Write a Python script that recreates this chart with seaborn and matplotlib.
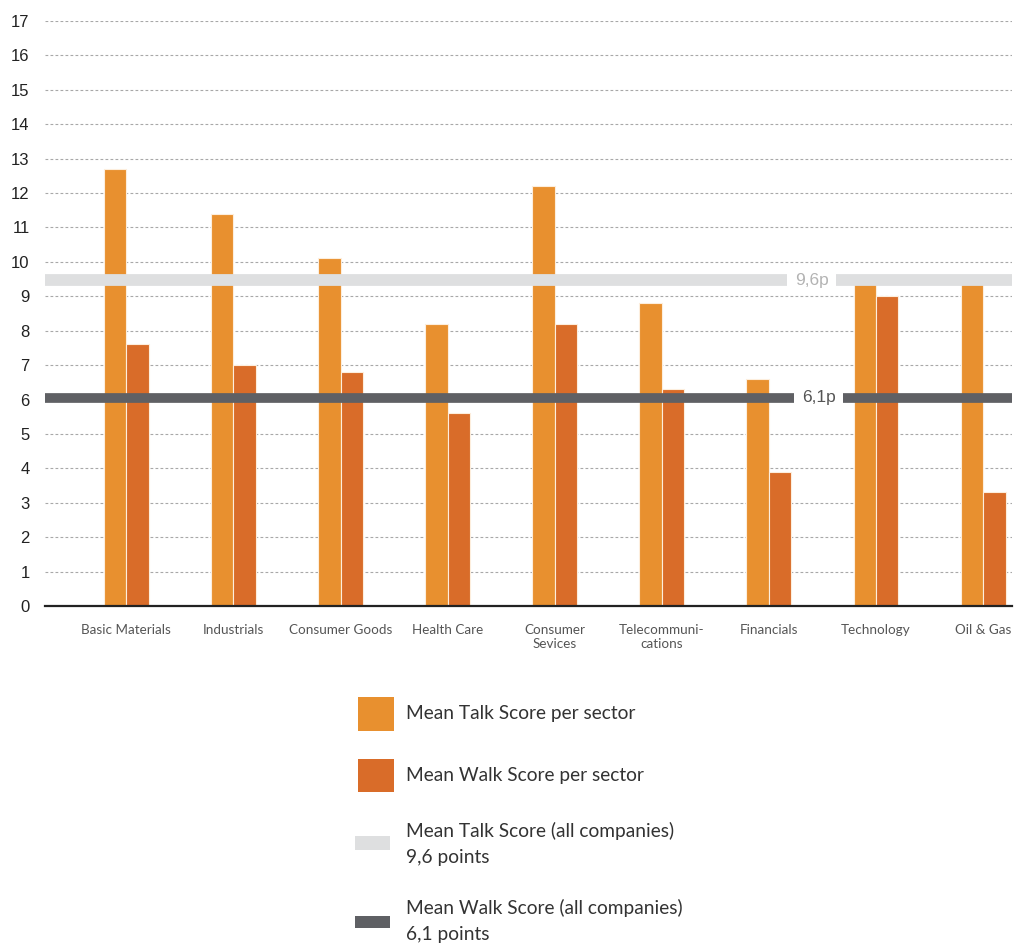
import pandas as pd
import seaborn as sns
import matplotlib.pyplot as plt
import matplotlib.transforms as mtransforms
from matplotlib.patches import Rectangle

# Data
sectors = ["Basic Materials", "Industrials", "Consumer Goods", "Health Care",
           "Consumer\nSevices", "Telecommuni-\ncations", "Financials",
           "Technology", "Oil & Gas"]
talk_scores = [12.7, 11.4, 10.1, 8.2, 12.2, 8.8, 6.6, 9.4, 9.4]
walk_scores = [7.6, 7.0, 6.8, 5.6, 8.2, 6.3, 3.9, 9.0, 3.3]
series_names = ["Mean Talk Score per sector", "Mean Walk Score per sector"]

# overall means (band positions as drawn, label text as printed)
talk_mean_level = 9.47
walk_mean_level = 6.05
talk_mean_label = "9,6p"
walk_mean_label = "6,1p"
legend_labels = ["Mean Talk Score per sector",
                 "Mean Walk Score per sector",
                 "Mean Talk Score (all companies)\n9,6 points",
                 "Mean Walk Score (all companies)\n6,1 points"]
y_ticks = list(range(0, 18))

# Colours
TALK = "#E8902F"
WALK = "#D96C29"
LIGHT_BAND = "#DEDFE0"
DARK_BAND = "#5F6064"

sns.set_style("white")
plt.rcParams["font.family"] = ["Liberation Sans", "DejaVu Sans"]

df = pd.DataFrame({
    "sector": sectors * 2,
    "score": talk_scores + walk_scores,
    "series": [series_names[0]] * len(sectors) + [series_names[1]] * len(sectors),
})

fig = plt.figure(figsize=(10.14, 9.47), dpi=100)
ax = fig.add_axes([45 / 1014, 1 - 606 / 947, (1012 - 45) / 1014, (606 - 21) / 947])

sns.barplot(data=df, x="sector", y="score", hue="series", order=sectors,
            hue_order=series_names, palette=[TALK, WALK], width=0.42,
            saturation=1, edgecolor="#fdeedd", linewidth=0.8, legend=False,
            ax=ax)

# Mean bands drawn over the bars
ax.axhline(talk_mean_level, color=LIGHT_BAND, linewidth=8.5, zorder=4,
           solid_capstyle="butt")
ax.axhline(walk_mean_level, color=DARK_BAND, linewidth=7, zorder=4,
           solid_capstyle="butt")

trans = mtransforms.blended_transform_factory(ax.transAxes, ax.transData)
ax.text(0.793, talk_mean_level, talk_mean_label, transform=trans, ha="center",
        va="center", fontsize=12.5, color="#b3b3b3", zorder=5,
        bbox=dict(fc="white", ec="none", boxstyle="square,pad=0.43"))
ax.text(0.800, walk_mean_level, walk_mean_label, transform=trans, ha="center",
        va="center", fontsize=12.5, color="#555555", zorder=5,
        bbox=dict(fc="white", ec="none", boxstyle="square,pad=0.43"))

# Axes styling
ax.set_xlim(-0.76, 8.27)
ax.set_ylim(0, 17)
ax.set_yticks(y_ticks)
ax.set_axisbelow(True)
ax.yaxis.grid(True, color="#a8a8a8", linestyle=(0, (2.5, 2)), linewidth=0.8)
ax.xaxis.grid(False)
for side in ["left", "right", "top"]:
    ax.spines[side].set_visible(False)
ax.spines["bottom"].set_color("#222222")
ax.spines["bottom"].set_linewidth(1.6)
ax.spines["bottom"].set_zorder(6)
ax.tick_params(axis="y", length=0, pad=11, labelsize=12, labelcolor="#222222")
ax.tick_params(axis="x", length=0, pad=13)
for lbl in ax.get_xticklabels():
    lbl.set_family(["Lato", "DejaVu Sans"])
    lbl.set_fontsize(9.7)
    lbl.set_color("#555555")
    lbl.set_linespacing(1.15)
ax.set_xlabel("")
ax.set_ylabel("")

# Legend below the chart (handles in pixel positions of the reference)
W, H = 1014, 947
legend_items = [
    (legend_labels[0], TALK, (358, 697, 36, 34), 714),
    (legend_labels[1], WALK, (358, 759, 36, 33), 775),
    (legend_labels[2], LIGHT_BAND, (355, 836, 35, 14), 844),
    (legend_labels[3], DARK_BAND, (355, 916, 35, 12), 921),
]
for label, color, (x, y, w, h), yc in legend_items:
    fig.patches.append(Rectangle((x / W, 1 - (y + h) / H), w / W, h / H,
                                 transform=fig.transFigure, facecolor=color,
                                 edgecolor="none"))
    fig.text(406 / W, 1 - yc / H, label, ha="left", va="center", fontsize=13.8,
             color="#333333", family=["Lato", "DejaVu Sans"], linespacing=1.65)

fig.savefig("out.png", dpi=100)
